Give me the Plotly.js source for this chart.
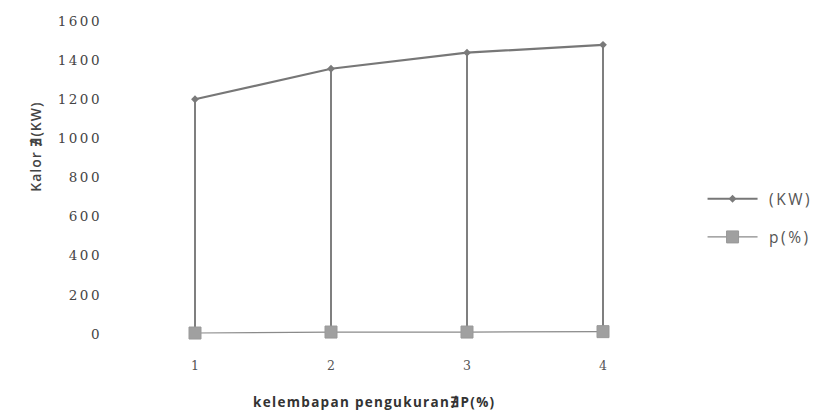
<!DOCTYPE html>
<html>
<head>
<meta charset="utf-8">
<script src="https://cdn.plot.ly/plotly-3.0.1.min.js"></script>
<style>
html,body{margin:0;padding:0;background:#fff;}
#chart{width:824px;height:417px;}
.ytick text{letter-spacing:2.5px;}
.annotation[data-index="0"] text{letter-spacing:1px;}
.annotation[data-index="1"] text{letter-spacing:1.3px;}
.legendtext{letter-spacing:2.5px;}
</style>
</head>
<body>
<div id="chart"></div>
<script>
const categories = ['1', '2', '3', '4'];
const kalorKW = [1200, 1356, 1438, 1478];
const pPercent = [5, 10, 10, 12];
const yTicks = [0, 200, 400, 600, 800, 1000, 1200, 1400, 1600];
const seriesNames = ['\u00a0(KW)', '\u00a0p(%)'];

const hlX = [], hlY = [];
categories.forEach((c, i) => { hlX.push(c, c, null); hlY.push(kalorKW[i], pPercent[i], null); });

const traces = [
  {x: hlX, y: hlY, mode: 'lines', line: {color: '#555', width: 1.5}, showlegend: false, hoverinfo: 'skip', cliponaxis: false},
  {x: categories, y: kalorKW, name: seriesNames[0], mode: 'lines+markers', legendgroup: 'a',
   line: {color: '#777', width: 2.2}, marker: {symbol: 'diamond', size: 6, color: '#7a7a7a'}, cliponaxis: false},
  {x: categories, y: pPercent, name: seriesNames[1], mode: 'lines+markers', legendgroup: 'b',
   line: {color: '#8a8a8a', width: 1.2}, marker: {symbol: 'square', size: 12, color: '#a0a0a0', line: {color: '#999', width: 1}}, cliponaxis: false}
];

const layout = {
  width: 824, height: 417,
  margin: {l: 127, r: 153, t: 21, b: 83, autoexpand: false},
  paper_bgcolor: '#fff', plot_bgcolor: '#fff',
  font: {family: 'Open Sans, sans-serif', color: '#444', size: 11},
  showlegend: true,
  legend: {x: 1.058, xanchor: 'left', y: 0.37, yanchor: 'middle', tracegroupgap: 15, itemwidth: 50,
           font: {size: 15.5, color: '#555'}, bgcolor: 'rgba(0,0,0,0)'},
  xaxis: {type: 'category', showgrid: false, zeroline: false, showline: false, ticks: '',
          ticklabelstandoff: 22, tickfont: {size: 12.5, color: '#555', family: 'DejaVu Serif, serif'}, range: [-0.5, 3.5]},
  yaxis: {range: [0, 1600], tickvals: yTicks, showgrid: false, zeroline: false, showline: false,
          ticks: '', ticklabelstandoff: 24, tickfont: {size: 13.5, color: '#444', family: 'DejaVu Serif, serif'}},
  annotations: [
    {text: 'Kalor ∄(KW)', xref: 'paper', yref: 'paper', x: -0.19, y: 0.597, yanchor: 'middle', textangle: -90,
     showarrow: false, font: {size: 14, color: '#444', family: 'Open Sans, sans-serif', weight: 600}},
    {text: 'kelembapan pengukuran∄P(%)', xref: 'paper', yref: 'paper', x: 0.455, y: -0.217, yanchor: 'middle',
     showarrow: false, font: {size: 13.5, color: '#333', family: 'Open Sans, sans-serif', weight: 700}}
  ]
};

Plotly.newPlot('chart', traces, layout, {displayModeBar: false, staticPlot: true});
</script>
</body>
</html>
